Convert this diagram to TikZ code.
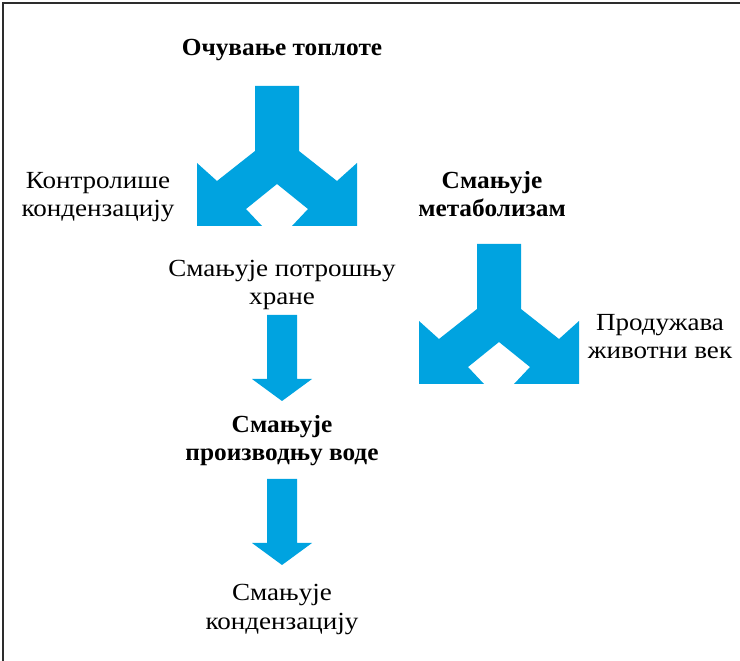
\documentclass[tikz,border=0pt]{standalone}
\usepackage{fontspec}
\setmainfont{Liberation Serif}[FakeStretch=1.1]
\newfontfamily\headfont{Liberation Serif Bold}[FakeStretch=1.03]
\usetikzlibrary{shapes,arrows,positioning,calc}
\definecolor{flowblue}{RGB}{0,163,224}
\definecolor{framegray}{RGB}{45,45,45}
\tikzset{
    caption/.style={align=center, inner sep=0pt, anchor=base, font=\fontsize{14}{16.5}\selectfont},
    keycaption/.style={caption, font=\fontsize{14}{16.5}\selectfont\headfont},
    blockarrow/.style={fill=flowblue, draw=none},
    frameline/.style={draw=framegray, line width=1.2pt}
}
% forked block arrow: centre x, top y
\newcommand{\forkarrow}[2]{%
    \fill[blockarrow] (#1-22,#2) -- (#1-22,#2+65) -- (#1-60,#2+95) -- (#1-80,#2+77)
        -- (#1-80,#2+140) -- (#1-15,#2+140) -- (#1-31,#2+123) -- (#1,#2+98)
        -- (#1+31,#2+123) -- (#1+15,#2+140) -- (#1+80,#2+140) -- (#1+80,#2+77)
        -- (#1+60,#2+95) -- (#1+22,#2+65) -- (#1+22,#2) -- cycle;}
% straight block arrow: centre x, top y
\newcommand{\droparrow}[2]{%
    \fill[blockarrow] (#1-15,#2) -- (#1-15,#2+64) -- (#1-30,#2+64) -- (#1,#2+86)
        -- (#1+30,#2+64) -- (#1+15,#2+64) -- (#1+15,#2) -- cycle;}

\begin{document}
\begin{tikzpicture}[x=0.02cm, y=-0.02cm]
    \useasboundingbox (0,0) rectangle (740,661);
    % open frame
    \draw[frameline] (740,3) -- (3,3) -- (3,661);

    % texts (placed at the baseline of their last line)
    \node[keycaption] (heat) at (282,56) {Очување топлоте};
    \node[caption] (cond) at (98,217) {Контролише\\кондензацију};
    \node[keycaption] (metab) at (492,217) {Смањује\\метаболизам};
    \node[caption] (food) at (282,305) {Смањује потрошњу\\хране};
    \node[caption] (life) at (660,359) {Продужава\\животни век};
    \node[keycaption] (water) at (282,461) {Смањује\\производњу воде};
    \node[caption] (less) at (282,629) {Смањује\\кондензацију};

    % block arrows
    \forkarrow{277}{86}
    \forkarrow{499}{244}
    \droparrow{282}{315}
    \droparrow{282}{479}
\end{tikzpicture}
\end{document}
